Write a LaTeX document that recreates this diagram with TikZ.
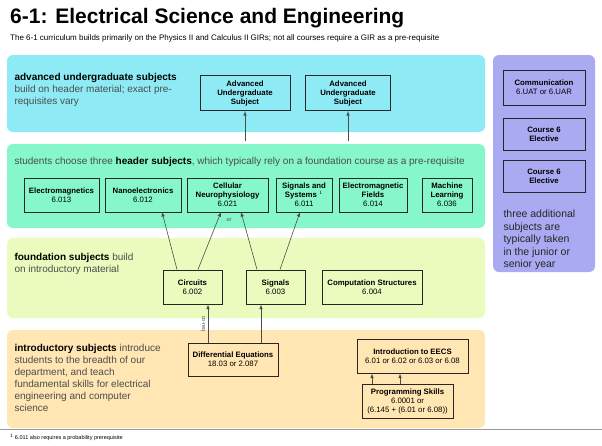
\documentclass[tikz,border=0pt]{standalone}
\usepackage{fontspec}
\setmainfont{Liberation Sans}
\begin{document}
\begin{tikzpicture}[x=1pt,y=-1pt,
  band/.style={rounded corners=6pt,draw=none},
  box/.style={draw=black!85,line width=1pt,align=center,font=\fontsize{7.8}{9}\selectfont,inner sep=1pt},
  arr/.style={-latex,black!70,line width=0.6pt},
  lbl/.style={anchor=west,align=left,font=\fontsize{10}{12}\selectfont,text=black!70}]
\useasboundingbox (0,0) rectangle (602,445);
\definecolor{cy}{HTML}{8EEBF5}\definecolor{gr}{HTML}{85F7CB}
\definecolor{li}{HTML}{EBFBBE}\definecolor{or}{HTML}{FFE6B3}\definecolor{pu}{HTML}{AAAAF2}
\fill[band,cy] (7,55) rectangle (485,132);
\fill[band,gr] (7,144) rectangle (485,228);
\fill[band,li] (7,238) rectangle (485,318);
\fill[band,or] (7,330) rectangle (485,428);
\fill[band,pu] (493,55) rectangle (595,272);
\draw[black!40] (0,429) -- (602,429);
\node[anchor=west,font=\bfseries\fontsize{21}{22}\selectfont,inner sep=0pt] (t) at (10,18) {6-1: Electrical Science and Engineering};
\node[anchor=west,font=\fontsize{8}{9}\selectfont,inner sep=0pt] (st) at (10,38) {The 6-1 curriculum builds primarily on the Physics II and Calculus II GIRs; not all courses require a GIR as a pre-requisite};
\node[lbl] (l1) at (11,90) {\textbf{\textcolor{black}{advanced undergraduate subjects}}\\build on header material; exact pre-\\requisites vary};
\node[lbl] (l2) at (11,162) {students choose three \textbf{\textcolor{black}{header subjects}}, which typically rely on a foundation course as a pre-requisite};
\node[lbl] (l3) at (11,264) {\textbf{\textcolor{black}{foundation subjects}} build\\on introductory material};
\node[lbl] (l4) at (11,378) {\textbf{\textcolor{black}{introductory subjects}} introduce\\students to the breadth of our\\department, and teach\\fundamental skills for electrical\\engineering and computer\\science};
\node[box,minimum width=90pt,minimum height=35pt] (a1) at (245,93) {\textbf{Advanced}\\\textbf{Undergraduate}\\\textbf{Subject}};
\node[box,minimum width=85pt,minimum height=35pt] (a2) at (348,93) {\textbf{Advanced}\\\textbf{Undergraduate}\\\textbf{Subject}};
\coordinate (c1) at (245,141); \coordinate (c2) at (348,141);
\draw[arr] (c1) -- (a1); \draw[arr] (c2) -- (a2);
\node[box,minimum width=75pt,minimum height=34pt] (h1) at (61.5,195) {\textbf{Electromagnetics}\\6.013};
\node[box,minimum width=76pt,minimum height=34pt] (h2) at (143,195) {\textbf{Nanoelectronics}\\6.012};
\node[box,minimum width=81pt,minimum height=34pt] (h3) at (227.5,195) {\textbf{Cellular}\\\textbf{Neurophysiology}\\6.021};
\node[box,minimum width=56pt,minimum height=34pt] (h4) at (304,195) {\textbf{Signals and}\\\textbf{Systems} $^{\scriptscriptstyle 1}$\\6.011};
\node[box,minimum width=68pt,minimum height=34pt] (h5) at (373,195) {\textbf{Electromagnetic}\\\textbf{Fields}\\6.014};
\node[box,minimum width=50pt,minimum height=34pt] (h6) at (447,195) {\textbf{Machine}\\\textbf{Learning}\\6.036};
\node[box,minimum width=59pt,minimum height=34pt] (f1) at (192.5,287) {\textbf{Circuits}\\6.002};
\node[box,minimum width=59pt,minimum height=34pt] (f2) at (275.5,287) {\textbf{Signals}\\6.003};
\node[box,minimum width=100pt,minimum height=34pt] (f3) at (372,287) {\textbf{Computation Structures}\\6.004};
\draw[arr] (f1.north -| 177,0) -- (162,212);
\draw[arr] (f1.north -| 198,0) -- (221,212);
\draw[arr] (f2.north -| 257,0) -- (241,212);
\draw[arr] (f2.north -| 280,0) -- (300,212);
\node[font=\fontsize{5.5}{6}\selectfont,text=black!70] (or) at (229,220) {or};
\node[box,minimum width=90pt,minimum height=33pt] (d) at (233,359.5) {\textbf{Differential Equations}\\18.03 or 2.087};
\node[box,minimum width=111pt,minimum height=34pt] (e) at (412.5,356) {\textbf{Introduction to EECS}\\6.01 or 6.02 or 6.03 or 6.08};
\node[box,minimum width=91pt,minimum height=34pt] (p) at (407.5,401) {\textbf{Programming Skills}\\6.0001 or\\(6.145 + (6.01 or 6.08))};
\draw[arr] (d.north -| 208,0) -- (f1.south -| 208,0);
\node[rotate=-90,font=\fontsize{5.5}{6}\selectfont,text=black!70] (cr) at (203,324) {co-req};
\draw[arr] (d.north -| 261,0) -- (f2.south -| 261,0);
\draw[arr] (p.north -| 372,0) -- (e.south -| 372,0);
\draw[arr] (p.north -| 400,0) -- (e.south -| 400,0);
\node[box,minimum width=82pt,minimum height=35pt] (r1) at (544,87.5) {\textbf{Communication}\\6.UAT or 6.UAR};
\node[box,minimum width=82pt,minimum height=32pt] (r2) at (544,134) {\textbf{Course 6}\\\textbf{Elective}};
\node[box,minimum width=82pt,minimum height=32pt] (r3) at (544,176) {\textbf{Course 6}\\\textbf{Elective}};
\node[lbl,text=black!85,font=\fontsize{10.5}{12.5}\selectfont] (rt) at (500,240) {three additional\\subjects are\\typically taken\\in the junior or\\senior year};
\node[anchor=west,font=\fontsize{5.5}{6}\selectfont] (fn) at (6,437) {$^{1}$ 6.011 also requires a probability prerequisite};
\end{tikzpicture}
\end{document}
